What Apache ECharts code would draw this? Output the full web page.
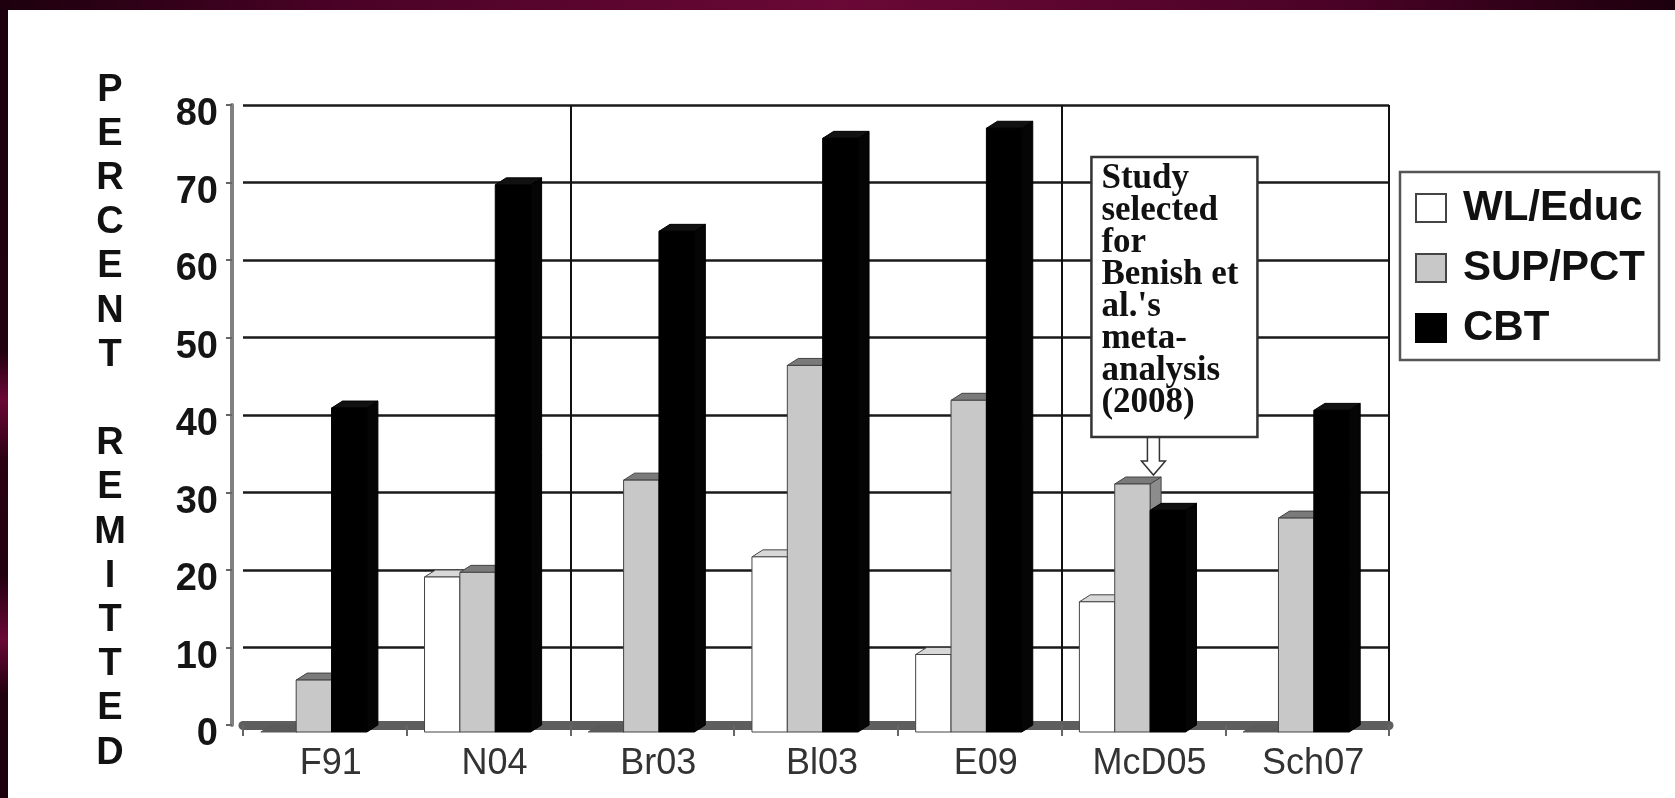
<!DOCTYPE html>
<html>
<head>
<meta charset="utf-8">
<script src="https://cdn.jsdelivr.net/npm/echarts@6/dist/echarts.min.js"></script>
<style>
  html, body { margin: 0; padding: 0; background: #fff; }
  #chart { width: 1675px; height: 798px; }
  .band-top { position: absolute; left: 0; top: 0; width: 1675px; height: 10px;
    background: linear-gradient(90deg, #1c000d 0%, #4a0226 20%, #6a0836 50%, #4a0226 80%, #1c000d 100%); }
  .band-left { position: absolute; left: 0; top: 0; width: 8px; height: 798px;
    background: linear-gradient(180deg, #1c000d 0%, #22000f 44%, #6a0836 50%, #2a0012 58%, #22000f 72%, #6a0836 80%, #22000f 87%, #1c000d 100%); }
</style>
</head>
<body>
<div id="chart"></div>
<div class="band-top"></div>
<div class="band-left"></div>
<script>
// percent remitted per study
const categories = ['F91', 'N04', 'Br03', 'Bl03', 'E09', 'McD05', 'Sch07'];
const wlEduc = [0, 20, 0, 22.6, 10, 16.8, 0];
const supPct = [6.7, 20.6, 32.5, 47.3, 42.8, 32, 27.6];
const cbt = [41.8, 70.6, 64.6, 76.6, 77.9, 28.6, 41.5];
const yTicks = [0, 10, 20, 30, 40, 50, 60, 70, 80];
const noteLines = ['Study', 'selected', 'for', 'Benish et', "al.'s", 'meta-', 'analysis', '(2008)'];

const SANS = '"Liberation Sans", Arial, sans-serif';
const SERIF = '"Liberation Serif", "Times New Roman", serif';

// fake 3D: the grid is the back wall, bars are pushed forward by DX/DY
const DX = 11, DY = 7, BAR = 0.216;

function bar3d(slot, face, top, side, edge) {
  return function (params, api) {
    const i = api.value(0);
    const v = api.value(1);
    const base = api.coord([i, 0]);
    const tip = api.coord([i, v]);
    const w = api.size([1, 0])[0] * BAR;
    const x0 = base[0] - DX + (slot - 1.5) * w;
    const x1 = x0 + w;
    const yb = base[1] + DY;
    const yt = tip[1] + DY;
    // a zero bar only shows as a flat dark lid on the floor
    const lid = v === 0 ? '#5a5a5a' : top;
    return {
      type: 'group',
      children: [
        { type: 'polygon', shape: { points: [[x1, yt], [x1 + DX, yt - DY], [x1 + DX, yb - DY], [x1, yb]] },
          style: { fill: side, stroke: edge, lineWidth: 1 } },
        { type: 'polygon', shape: { points: [[x0, yt], [x0 + DX, yt - DY], [x1 + DX, yt - DY], [x1, yt]] },
          style: { fill: lid, stroke: v === 0 ? '#5a5a5a' : edge, lineWidth: 1 } },
        { type: 'rect', shape: { x: x0, y: yt, width: w, height: yb - yt },
          style: { fill: face, stroke: edge, lineWidth: 1 }, invisible: v === 0 }
      ]
    };
  };
}

function series(name, values, slot, face, top, side, edge) {
  return {
    name: name,
    type: 'custom',
    renderItem: bar3d(slot, face, top, side, edge),
    encode: { x: 0, y: 1 },
    itemStyle: { color: face, borderColor: edge },
    clip: false,
    data: values.map((v, i) => [i, v])
  };
}

const chart = echarts.init(document.getElementById('chart'));

const title = 'PERCENT'.split('').join('\n') + '\n\n' + 'REMITTED'.split('').join('\n');
const titleText = {
  type: 'text', x: 110, y: 68, z: 5,
  style: { text: title, align: 'center', font: 'bold 38px ' + SANS, lineHeight: 44.2, fill: '#111' }
};

const option = {
  animation: false,
  backgroundColor: '#fff',
  grid: { left: 243, right: 286, top: 105, bottom: 73 },
  xAxis: {
    type: 'category',
    data: categories,
    offset: 4,
    axisLine: { lineStyle: { color: '#5e5e5e', width: 9 } },
    axisTick: { show: true, length: 11, lineStyle: { color: '#666', width: 2 } },
    axisLabel: { margin: 17, fontFamily: SANS, fontSize: 36, color: '#333', padding: [0, 0, 0, 12] },
    splitLine: {
      show: true,
      interval: (index) => index === 2 || index === 5,
      lineStyle: { color: '#111', width: 2 }
    }
  },
  yAxis: {
    type: 'value',
    min: 0,
    max: 80,
    interval: 10,
    offset: 11,
    axisLine: { show: true, lineStyle: { color: '#808080', width: 4 } },
    axisTick: { show: true, length: 6, lineStyle: { color: '#666', width: 2 } },
    axisLabel: {
      margin: 14, fontFamily: SANS, fontWeight: 'bold', fontSize: 38, color: '#151515',
      verticalAlign: 'top', lineHeight: 20,
      formatter: (v) => (yTicks.indexOf(v) >= 0 ? String(v) : '')
    },
    splitLine: { lineStyle: { color: '#1a1a1a', width: 2.5 } }
  },
  legend: {
    orient: 'vertical',
    left: 1400,
    top: 172,
    backgroundColor: '#fff',
    borderColor: '#555',
    borderWidth: 2.5,
    padding: [15, 14, 11, 15],
    itemWidth: 30,
    itemHeight: 28,
    itemGap: 18,
    textStyle: { fontFamily: SANS, fontWeight: 'bold', fontSize: 42, color: '#111', lineHeight: 42, padding: [0, 0, 0, 12] },
    data: [
      { name: 'WL/Educ', icon: 'rect', itemStyle: { color: '#fff', borderColor: '#444', borderWidth: 2 } },
      { name: 'SUP/PCT', icon: 'rect', itemStyle: { color: '#c8c8c8', borderColor: '#444', borderWidth: 2 } },
      { name: 'CBT', icon: 'rect', itemStyle: { color: '#000', borderColor: '#000', borderWidth: 2 } }
    ]
  },
  series: [
    series('WL/Educ', wlEduc, 0, '#ffffff', '#d8d8d8', '#e8e8e8', '#444'),
    series('SUP/PCT', supPct, 1, '#c8c8c8', '#7a7a7a', '#8c8c8c', '#444'),
    series('CBT', cbt, 2, '#000000', '#111111', '#050505', '#000')
  ],
  graphic: [titleText]
};

chart.setOption(option);

// callout pointing at McD05 SUP/PCT bar
const tip = chart.convertToPixel({ gridIndex: 0 }, [5, supPct[5]]);
const ax = tip[0] + 10, ay = tip[1] - 2;
const boxL = tip[0] - 52, boxT = tip[1] - 320, boxW = 166, boxH = 280;
const headY = ay - 14;
chart.setOption({
  graphic: [
    titleText,
    {
      type: 'polygon', z: 20,
      shape: { points: [
        [ax - 6, boxT + boxH], [ax + 6, boxT + boxH], [ax + 6, headY], [ax + 12, headY],
        [ax, ay], [ax - 12, headY], [ax - 6, headY]
      ] },
      style: { fill: '#fff', stroke: '#333', lineWidth: 1.5 }
    },
    {
      type: 'rect', z: 20,
      shape: { x: boxL, y: boxT, width: boxW, height: boxH },
      style: { fill: '#fff', stroke: '#333', lineWidth: 2.5 }
    },
    {
      type: 'text', z: 21, x: boxL + 10, y: boxT + 6,
      style: { text: noteLines.join('\n'), font: 'bold 35px ' + SERIF, lineHeight: 32, fill: '#111' }
    }
  ]
});
</script>
</body>
</html>
